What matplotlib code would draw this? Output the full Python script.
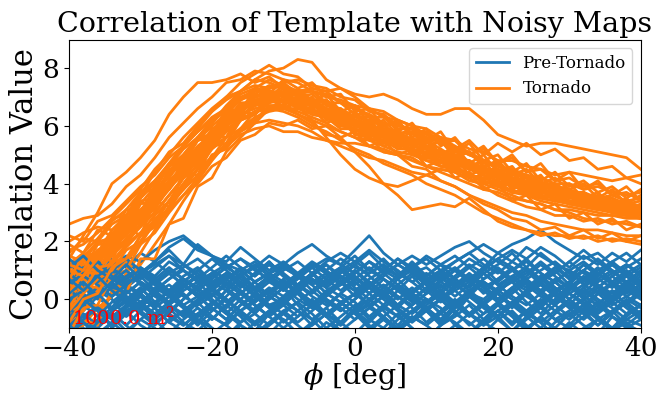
import numpy as np
import matplotlib
matplotlib.use('Agg')
import matplotlib.pyplot as plt

plt.rcParams['font.family'] = 'serif'
plt.rcParams['font.serif'] = ['DejaVu Serif']
plt.rcParams['mathtext.fontset'] = 'dejavuserif'

# scan angle grid [deg]
phi = np.arange(-40, 41, 2)

# correlation curves for the pre-tornado noisy maps
pre_tornado = [
    [0.2, 0.6, 0.1, -0.3, 0.4, 0.8, 0.3, -0.1, 0.5, 0.2, -0.4, 0.1, 0.6, 0.3, -0.2, 0.0, 0.5, 0.9, 0.4, 0.1, -0.3, 0.2, 0.7, 0.3, -0.1, 0.4, 0.0, -0.5, 0.1, 0.6, 0.2, -0.2, 0.3, 0.8, 0.4, 0.0, -0.4, 0.2, 0.5, 0.1, -0.2],
    [0.9, 1.2, 0.8, 1.4, 1.1, 1.6, 1.3, 1.8, 2.1, 1.7, 1.5, 1.2, 1.0, 1.3, 0.9, 1.1, 0.8, 1.2, 1.0, 1.4, 1.1, 0.9, 1.2, 0.8, 1.1, 1.5, 1.2, 1.0, 1.4, 1.1, 1.6, 1.3, 1.8, 1.5, 1.2, 1.0, 1.3, 0.9, 1.2, 0.8, 1.1],
    [-0.5, -0.1, 0.3, 0.0, -0.6, -0.2, 0.4, 0.1, -0.3, -0.8, -0.2, 0.3, -0.1, -0.5, 0.0, 0.4, -0.2, -0.7, -0.3, 0.2, -0.1, -0.6, -0.2, 0.3, 0.0, -0.4, -0.9, -0.3, 0.1, -0.2, -0.6, -0.1, 0.3, -0.2, -0.7, -0.4, 0.0, 0.3, -0.1, -0.5, -0.2],
    [1.0, 0.6, 0.9, 0.4, 0.7, 1.1, 0.8, 1.3, 1.0, 0.6, 0.9, 1.2, 0.7, 0.4, 0.8, 0.5, 0.9, 1.3, 1.0, 0.6, 0.3, 0.7, 1.0, 1.4, 1.1, 0.7, 0.4, 0.8, 1.2, 0.9, 0.5, 0.8, 1.1, 0.7, 0.3, 0.6, 1.0, 0.7, 0.4, 0.8, 0.5],
    [-1.3, -0.8, -1.0, -0.5, -0.9, -1.4, -0.7, -0.3, -0.8, -1.1, -0.6, -0.9, -1.3, -0.8, -0.4, -0.7, -1.2, -0.9, -0.5, -0.8, -1.2, -0.7, -0.3, -0.6, -1.0, -1.4, -0.9, -0.5, -0.8, -1.2, -0.7, -0.4, -0.9, -1.3, -0.8, -0.5, -0.9, -1.2, -0.6, -0.9, -1.1],
    [0.1, 0.5, 0.3, 0.7, 0.4, 0.2, 0.6, 0.9, 0.5, 0.8, 0.4, 0.7, 1.0, 0.6, 0.9, 1.2, 0.8, 1.1, 1.4, 1.2, 1.7, 2.2, 1.6, 1.2, 0.9, 1.1, 0.7, 0.5, 0.8, 0.4, 0.7, 1.0, 0.6, 0.3, 0.7, 0.4, 0.1, 0.5, 0.2, 0.6, 0.3],
    [0.5, 0.0, -0.4, 0.1, 0.5, 0.2, -0.2, 0.3, 0.7, 0.3, -0.1, -0.5, 0.0, 0.4, 0.8, 0.4, 0.0, -0.3, 0.2, 0.6, 0.3, -0.2, 0.1, 0.5, 0.9, 0.5, 0.1, -0.3, 0.2, 0.0, 0.4, 0.8, 0.5, 0.1, -0.2, 0.3, 0.7, 0.4, 0.0, 0.4, 0.1],
    [-0.2, -0.7, -0.3, -1.0, -0.5, -0.1, -0.6, -0.2, 0.2, -0.3, -0.7, -0.2, -0.6, -1.1, -0.5, -0.1, -0.4, 0.0, -0.5, -0.9, -0.4, -0.8, -0.3, 0.1, -0.3, -0.8, -0.4, 0.0, -0.5, -0.9, -0.6, -0.2, -0.6, -1.0, -0.5, -0.1, -0.5, -0.9, -0.4, 0.0, -0.3],
    [0.6, 0.3, 0.8, 0.5, 0.2, 0.6, 0.3, 0.7, 1.0, 0.6, 0.9, 0.5, 0.2, 0.6, 0.9, 0.6, 0.3, 0.7, 0.4, 0.8, 0.5, 0.9, 1.2, 0.8, 1.1, 1.4, 1.0, 1.3, 1.6, 1.9, 1.6, 1.9, 2.1, 2.4, 2.0, 1.7, 1.4, 1.6, 1.2, 0.9, 1.2],
    [-0.8, -0.3, 0.1, -0.4, -0.1, -0.5, -0.9, -0.4, 0.0, 0.4, 0.0, -0.4, -0.8, -0.3, 0.1, -0.2, -0.6, -0.2, 0.2, -0.1, -0.5, -1.0, -0.6, -0.2, 0.2, -0.1, 0.3, -0.1, -0.5, -0.1, 0.3, 0.0, -0.4, -0.8, -0.4, 0.0, 0.4, 0.0, -0.3, -0.7, -0.4],
    [0.3, 0.8, 1.1, 0.7, 1.0, 0.6, 0.3, 0.7, 1.1, 1.4, 1.0, 0.7, 1.0, 0.6, 0.9, 1.2, 0.8, 0.5, 0.8, 1.1, 0.7, 0.4, 0.8, 1.2, 0.9, 0.5, 0.8, 1.1, 0.7, 1.1, 1.4, 1.1, 0.7, 1.0, 1.3, 0.9, 0.6, 1.0, 1.3, 0.9, 0.6],
    [-1.0, -0.6, -0.2, -0.6, -1.1, -0.7, -0.3, 0.1, -0.3, -0.7, -1.2, -0.8, -0.4, -0.8, -0.4, 0.0, -0.4, -0.9, -0.5, -0.1, -0.5, -0.2, -0.6, -1.1, -0.7, -0.3, -0.7, -0.3, 0.1, -0.3, -0.7, -1.1, -0.7, -0.3, -0.7, -1.0, -0.6, -0.2, -0.6, -1.0, -0.7],
    [0.4, 0.9, 0.6, 1.0, 1.3, 0.9, 1.2, 1.5, 1.2, 1.9, 1.5, 1.3, 1.8, 1.4, 1.0, 1.3, 0.9, 0.6, 0.9, 0.5, 0.8, 0.4, 0.1, 0.5, 0.2, 0.6, 0.9, 0.5, 0.2, 0.6, 0.3, 0.7, 1.0, 0.6, 0.9, 1.3, 0.9, 0.6, 0.9, 1.2, 0.9],
    [0.0, -0.4, 0.1, 0.4, 0.0, -0.3, 0.2, -0.2, -0.6, -0.1, 0.3, 0.7, 0.3, -0.1, 0.3, 0.6, 0.2, -0.2, -0.6, -0.2, 0.2, 0.6, 0.2, -0.2, 0.2, -0.3, -0.7, -0.2, 0.2, 0.6, 0.2, -0.2, 0.2, 0.5, 0.1, -0.3, 0.0, 0.4, 0.8, 0.4, 0.1],
    [-0.6, -1.1, -0.7, -0.3, 0.1, -0.2, -0.7, -1.2, -0.7, -0.3, -0.7, -0.2, 0.2, -0.2, -0.6, -1.0, -0.6, -0.2, -0.6, -1.1, -0.7, -0.3, 0.1, -0.3, -0.7, -0.3, 0.0, -0.4, -0.9, -0.5, -0.1, -0.5, -1.0, -0.6, -0.2, 0.2, -0.2, -0.6, -1.0, -0.6, -0.2],
    [0.7, 1.1, 0.8, 1.2, 1.5, 1.3, 1.7, 2.0, 2.2, 1.8, 1.5, 1.1, 1.4, 1.0, 0.7, 1.1, 0.8, 1.2, 0.9, 0.6, 0.9, 1.3, 1.0, 0.7, 1.0, 0.6, 0.9, 1.3, 1.6, 1.2, 0.9, 1.3, 1.0, 0.7, 1.1, 0.8, 1.2, 0.9, 0.5, 0.9, 0.6],
    [0.2, -0.2, 0.3, 0.7, 0.4, 0.9, 0.5, 0.1, 0.5, 0.1, 0.4, 0.8, 0.5, 0.1, -0.3, 0.1, 0.5, 0.2, 0.6, 1.0, 0.6, 0.2, 0.5, 0.1, -0.2, 0.2, 0.6, 1.0, 0.6, 0.3, -0.1, 0.3, 0.7, 0.3, 0.6, 0.2, 0.5, 0.9, 0.6, 0.2, 0.5],
    [-1.5, -1.0, -1.3, -0.8, -1.2, -0.7, -1.0, -1.5, -1.1, -0.7, -1.0, -1.4, -0.9, -1.3, -0.9, -0.5, -0.9, -1.3, -0.8, -1.1, -1.5, -1.1, -0.7, -1.0, -0.6, -0.9, -1.3, -0.9, -1.2, -0.8, -1.1, -1.5, -1.0, -0.7, -1.0, -1.4, -1.0, -0.7, -1.1, -0.8, -1.2],
    [0.8, 0.4, 0.0, 0.4, 0.8, 1.1, 0.7, 0.3, 0.6, 1.0, 0.6, 0.9, 0.5, 0.2, 0.6, 1.0, 1.3, 0.9, 0.5, 0.9, 1.2, 0.8, 0.4, 0.8, 1.2, 0.8, 1.2, 1.5, 1.1, 0.7, 1.0, 0.6, 0.3, 0.7, 1.1, 0.7, 1.0, 1.4, 1.0, 0.6, 1.0],
    [-0.3, 0.1, -0.3, -0.7, -0.3, 0.2, 0.6, 0.2, -0.2, 0.1, -0.3, -0.7, -0.2, 0.2, -0.2, -0.5, -0.1, 0.3, -0.1, -0.4, 0.0, 0.4, 0.0, -0.4, -0.8, -0.4, 0.0, 0.3, -0.1, -0.5, -0.2, 0.2, 0.6, 0.2, -0.2, -0.6, -0.2, 0.2, -0.2, 0.1, 0.4],
    [0.3, 0.0, 0.4, 0.1, 0.5, 0.9, 0.6, 1.0, 0.7, 0.4, 0.8, 1.1, 1.4, 1.1, 1.5, 1.2, 1.6, 1.9, 1.5, 1.2, 0.9, 1.3, 0.9, 1.2, 1.5, 1.2, 1.5, 1.8, 2.0, 1.6, 1.3, 1.0, 1.3, 0.9, 0.6, 1.0, 0.7, 0.4, 0.8, 1.1, 1.4],
    [-0.4, 0.0, 0.4, 0.9, 0.5, 0.1, -0.3, 0.1, 0.5, 0.1, 0.4, 0.0, -0.4, 0.0, 0.4, 0.1, 0.5, 0.1, -0.2, 0.2, 0.6, 0.2, -0.2, -0.6, -0.2, 0.2, 0.5, 0.1, 0.5, 0.9, 0.5, 0.1, -0.2, 0.2, 0.6, 0.2, -0.1, -0.5, -0.1, 0.3, 0.0],
    [-0.9, -0.5, -0.9, -0.4, 0.0, -0.4, -0.8, -0.5, -0.9, -0.5, -0.1, -0.5, -0.9, -1.2, -0.8, -0.4, -0.8, -0.4, 0.0, -0.3, -0.7, -0.3, -0.6, -1.0, -0.6, -0.9, -0.5, -0.1, -0.5, -0.8, -0.4, -0.8, -0.4, 0.0, -0.4, -0.7, -0.3, -0.7, -1.1, -0.7, -0.9],
    [1.2, 0.9, 1.3, 1.0, 0.6, 0.9, 0.5, 0.9, 1.2, 0.8, 0.4, 0.7, 1.1, 0.8, 1.2, 0.9, 0.5, 0.9, 1.3, 1.6, 1.3, 1.7, 1.3, 1.0, 0.6, 0.9, 0.6, 0.3, 0.6, 1.0, 1.4, 1.7, 1.4, 1.8, 1.5, 1.1, 1.5, 1.2, 1.6, 1.3, 1.7],
    [-0.1, 0.4, 0.9, 0.5, 0.0, 0.4, -0.1, -0.5, 0.0, 0.5, 0.9, 0.4, 0.0, -0.4, 0.1, 0.6, 0.2, -0.3, 0.1, 0.5, 1.0, 0.6, 0.1, 0.5, 0.0, -0.4, 0.0, 0.5, 0.9, 0.5, 0.0, 0.4, -0.1, -0.5, 0.0, 0.5, 1.0, 0.5, 0.1, 0.6, 0.2],
    [0.6, 0.2, -0.3, -0.7, -0.2, 0.3, 0.7, 0.3, -0.2, -0.6, -0.2, 0.3, 0.8, 0.4, 0.0, 0.4, 0.9, 0.5, 0.0, -0.4, 0.0, 0.5, 0.9, 0.5, 0.1, -0.4, -0.8, -0.3, 0.2, 0.6, 0.2, -0.3, 0.2, 0.6, 1.0, 0.5, 0.0, -0.4, 0.0, 0.5, 0.9],
    [-0.7, -0.2, -0.6, -0.1, 0.3, -0.1, -0.5, -0.1, 0.4, 0.8, 0.3, -0.1, 0.3, -0.2, -0.6, -0.2, 0.3, -0.1, -0.5, -0.9, -0.4, 0.0, 0.4, 0.0, 0.4, 0.0, -0.5, -0.1, 0.3, -0.1, -0.6, -0.2, 0.2, 0.6, 0.2, -0.2, 0.3, -0.1, -0.5, -0.1, 0.3],
    [1.4, 1.0, 0.6, 1.0, 1.4, 1.0, 0.7, 1.1, 0.7, 0.3, 0.7, 1.1, 0.8, 1.2, 0.8, 0.4, 0.8, 1.2, 0.9, 0.5, 0.9, 1.3, 1.0, 1.4, 1.0, 0.6, 1.0, 0.7, 1.1, 1.4, 1.0, 0.6, 0.9, 1.3, 0.9, 1.3, 1.7, 1.3, 0.9, 1.2, 0.8],
    [-0.3, -0.8, -1.2, -0.8, -0.3, 0.1, -0.3, -0.8, -0.4, 0.0, 0.4, 0.0, -0.5, -0.9, -0.5, -0.1, 0.3, -0.1, -0.6, -0.2, 0.2, -0.2, -0.7, -1.1, -0.7, -0.2, 0.2, -0.2, -0.6, -0.2, -0.6, -1.1, -0.6, -0.2, 0.2, -0.3, -0.7, -0.3, 0.1, -0.3, -0.7],
    [0.4, 0.8, 0.5, 0.1, 0.5, 0.9, 1.3, 0.9, 0.5, 0.1, 0.5, 0.9, 0.5, 0.9, 1.2, 0.8, 0.4, 0.8, 1.2, 0.8, 0.4, 0.0, 0.4, 0.8, 1.1, 0.7, 0.3, 0.7, 0.3, 0.7, 1.1, 0.7, 0.4, 0.8, 0.4, 0.0, 0.4, 0.8, 1.2, 0.8, 0.4],
    [-1.1, -0.7, -0.3, -0.6, -0.2, 0.1, -0.3, -0.8, -1.1, -0.6, -0.3, -0.7, -0.2, 0.1, -0.3, -0.8, -0.4, -0.7, -1.2, -0.8, -0.3, 0.0, -0.4, -0.9, -0.4, 0.0, -0.3, -0.9, -0.5, -0.1, -0.6, -0.1, -0.5, -0.8, -1.3, -0.9, -0.4, -0.9, -0.5, -0.1, -0.5],
    [0.0, 0.3, 0.7, 1.1, 0.7, 1.0, 0.6, 0.2, 0.6, 1.0, 1.4, 1.0, 0.6, 0.3, 0.7, 0.3, 0.7, 1.1, 0.7, 0.3, 0.7, 1.1, 0.7, 0.4, 0.0, 0.4, 0.8, 0.4, 0.8, 0.4, 0.0, 0.4, 0.8, 1.2, 0.8, 0.4, 0.8, 0.4, 0.0, 0.4, 0.8],
    [0.9, 0.5, 0.1, 0.6, 0.1, -0.3, 0.2, 0.5, 0.1, -0.2, 0.1, 0.5, 0.9, 0.4, 0.2, 0.7, 0.2, -0.2, 0.3, 0.6, 0.1, 0.6, 0.2, -0.3, 0.2, 0.7, 1.0, 0.5, 0.2, -0.2, 0.3, 0.6, 0.1, -0.2, 0.3, 0.6, 0.2, 0.7, 1.0, 0.5, 0.2],
    [-0.4, 0.0, -0.4, -0.9, -0.4, -0.1, 0.3, -0.2, -0.5, -0.1, -0.6, -0.9, -0.4, -0.1, 0.3, -0.1, 0.4, 0.7, 0.2, -0.1, -0.5, -0.1, 0.3, -0.2, -0.5, -0.1, 0.3, -0.2, -0.5, -0.9, -0.4, -0.1, -0.5, -0.1, 0.3, -0.2, -0.5, -0.1, -0.6, -0.9, -0.5],
    [0.5, 0.9, 1.3, 0.8, 0.5, 0.9, 1.3, 1.7, 1.2, 0.9, 0.5, 0.9, 0.4, 0.9, 1.3, 0.8, 0.5, 0.9, 0.5, 1.0, 1.3, 1.0, 1.4, 0.9, 0.6, 0.2, 0.7, 1.0, 0.6, 1.1, 0.6, 1.0, 1.4, 0.9, 0.6, 1.0, 0.5, 0.2, 0.6, 1.0, 0.6],
    [-0.9, -1.3, -0.8, -0.5, -0.9, -0.4, -0.1, -0.6, -0.9, -0.5, -1.0, -1.3, -0.8, -0.5, -0.9, -0.4, -0.1, -0.5, -1.0, -0.6, -0.2, -0.7, -1.0, -0.5, -1.0, -1.4, -0.9, -0.6, -0.2, -0.7, -0.2, -0.6, -1.1, -0.6, -1.0, -0.5, -0.2, -0.6, -1.0, -0.5, -0.2],
    [0.2, 0.6, 0.1, 0.6, 1.0, 0.5, 0.2, -0.2, 0.3, 0.6, 0.1, 0.6, 0.2, -0.2, -0.6, -0.1, 0.2, 0.7, 0.2, 0.6, 1.0, 0.5, 0.2, 0.7, 0.2, 0.6, 0.1, -0.2, 0.3, -0.2, 0.2, 0.7, 1.0, 0.5, 0.2, 0.6, 0.1, -0.2, 0.3, -0.2, 0.2],
    [1.1, 1.5, 1.0, 0.7, 1.2, 0.7, 1.1, 1.5, 1.0, 0.7, 1.1, 1.5, 1.1, 0.8, 1.3, 0.8, 0.4, 0.9, 1.2, 0.7, 1.2, 1.6, 1.1, 0.8, 1.3, 0.8, 1.2, 0.7, 0.4, 0.9, 1.2, 1.6, 1.1, 1.6, 1.2, 0.7, 1.2, 0.8, 1.3, 1.6, 1.2],
    [-0.6, -0.2, 0.2, -0.3, 0.2, 0.6, 0.1, -0.2, -0.6, -0.1, 0.2, -0.3, 0.2, 0.6, 0.1, -0.2, 0.3, -0.2, -0.6, -0.1, 0.2, 0.6, 0.1, -0.2, 0.3, 0.6, 0.2, 0.6, 0.1, -0.2, -0.6, -0.1, 0.2, -0.3, 0.2, 0.6, 0.1, -0.2, 0.3, -0.2, -0.6],
    [0.7, 0.3, 0.8, 0.3, -0.1, 0.4, -0.1, 0.3, 0.8, 1.1, 0.6, 0.3, 0.8, 1.1, 0.6, 0.3, 0.8, 0.3, 0.7, 1.1, 1.5, 1.0, 0.7, 0.3, 0.8, 0.3, -0.1, 0.4, 0.7, 0.2, 0.7, 1.1, 0.6, 0.3, -0.1, 0.4, 0.7, 1.1, 0.6, 0.3, 0.7],
    [-1.2, -0.8, -1.3, -0.8, -0.4, -0.9, -1.2, -0.7, -0.4, -0.9, -0.4, 0.0, -0.5, -0.8, -1.2, -0.7, -1.2, -0.8, -0.3, -0.8, -0.4, -0.9, -1.2, -0.7, -0.4, 0.0, -0.5, -0.8, -1.2, -0.7, -0.4, -0.9, -0.4, -0.8, -1.3, -0.8, -1.2, -0.7, -0.4, -0.9, -1.2],
]

# correlation curves for the tornado noisy maps
tornado = [
    [2.6, 2.8, 2.9, 3.3, 3.9, 4.3, 4.9, 5.6, 6.1, 6.6, 7.0, 7.5, 7.6, 7.9, 7.8, 7.6, 7.5, 7.2, 7.1, 6.8, 6.6, 6.4, 6.1, 6.0, 5.9, 5.7, 5.4, 5.2, 5.0, 4.8, 4.6, 4.5, 4.3, 4.2, 4.0, 4.0, 3.8, 3.9, 3.7, 3.6, 3.7],
    [2.0, 2.3, 2.5, 2.4, 2.9, 3.6, 4.4, 5.1, 5.4, 6.0, 6.5, 6.9, 7.2, 7.4, 7.3, 7.5, 7.1, 6.9, 6.8, 6.4, 6.2, 6.1, 5.8, 5.6, 5.6, 5.3, 5.0, 5.0, 4.7, 4.4, 4.4, 4.1, 4.0, 3.8, 3.9, 3.6, 3.5, 3.6, 3.3, 3.4, 3.2],
    [1.4, 2.2, 3.0, 4.0, 4.4, 4.9, 5.5, 6.4, 7.0, 7.5, 7.5, 7.6, 7.8, 7.5, 7.7, 7.3, 7.2, 6.9, 6.9, 6.5, 6.3, 6.3, 5.9, 5.8, 5.5, 5.5, 5.2, 4.9, 4.8, 4.5, 4.5, 4.2, 4.1, 3.9, 3.9, 3.7, 3.7, 3.5, 3.6, 3.4, 3.5],
    [0.9, 1.3, 1.5, 2.0, 2.4, 3.0, 3.7, 4.4, 5.0, 5.6, 6.1, 6.7, 7.2, 7.6, 7.9, 8.0, 8.3, 8.2, 7.6, 7.3, 7.0, 6.6, 6.5, 6.2, 6.0, 5.7, 5.6, 5.3, 5.0, 4.8, 4.5, 4.4, 4.2, 4.0, 3.9, 3.8, 3.6, 3.5, 3.5, 3.3, 3.4],
    [0.4, 0.9, 1.4, 2.0, 2.5, 3.0, 3.6, 4.3, 4.9, 5.5, 6.0, 6.4, 6.9, 7.1, 7.4, 7.3, 7.2, 7.3, 7.2, 7.3, 7.1, 7.0, 7.1, 6.9, 6.6, 6.4, 6.4, 6.6, 6.6, 6.2, 5.7, 5.5, 5.3, 5.4, 5.4, 5.3, 5.2, 5.1, 5.0, 4.9, 4.5],
    [0.8, 1.0, 1.7, 2.0, 2.7, 3.0, 3.8, 4.2, 4.9, 5.2, 5.9, 6.2, 6.8, 6.8, 7.1, 6.8, 6.8, 6.4, 6.3, 5.9, 5.9, 5.5, 5.5, 5.2, 5.2, 4.8, 4.8, 4.4, 4.4, 4.0, 4.1, 3.7, 3.8, 3.5, 3.6, 3.3, 3.4, 3.2, 3.3, 3.1, 3.2],
    [1.1, 1.5, 1.4, 2.3, 2.5, 3.4, 3.5, 4.5, 4.7, 5.5, 5.6, 6.5, 6.5, 7.1, 6.9, 7.1, 6.6, 6.6, 6.1, 6.3, 5.7, 5.8, 5.3, 5.5, 5.0, 5.1, 4.6, 4.7, 4.2, 4.3, 3.9, 4.0, 3.6, 3.8, 3.4, 3.6, 3.2, 3.4, 3.1, 3.3, 3.0],
    [0.3, 0.8, 1.3, 1.8, 2.2, 2.8, 3.3, 3.9, 4.5, 5.0, 5.5, 6.0, 6.4, 6.6, 6.7, 6.7, 6.5, 6.3, 6.1, 5.8, 5.6, 5.5, 5.3, 5.1, 5.0, 4.8, 4.6, 4.5, 4.3, 4.1, 3.9, 3.8, 3.6, 3.5, 3.4, 3.3, 3.2, 3.1, 3.1, 3.0, 2.9],
    [1.3, 1.4, 2.0, 2.6, 2.9, 3.5, 4.1, 4.6, 5.2, 5.6, 6.2, 6.5, 6.9, 7.3, 7.2, 7.1, 6.9, 6.8, 6.4, 6.2, 6.1, 5.8, 5.6, 5.5, 5.3, 5.2, 4.9, 4.8, 4.5, 4.4, 4.2, 4.0, 3.9, 3.7, 3.7, 3.5, 3.5, 3.4, 3.3, 3.3, 3.2],
    [0.5, 1.0, 1.2, 1.9, 2.4, 2.7, 3.5, 4.0, 4.4, 5.1, 5.6, 6.0, 6.6, 6.7, 7.0, 6.9, 6.6, 6.6, 6.3, 6.0, 5.9, 5.6, 5.4, 5.4, 5.1, 4.9, 4.8, 4.6, 4.3, 4.2, 4.0, 3.7, 3.7, 3.5, 3.4, 3.4, 3.2, 3.2, 3.0, 3.1, 2.9],
    [0.7, 1.2, 1.5, 2.1, 2.6, 3.0, 3.7, 4.3, 4.7, 5.3, 5.7, 6.3, 6.6, 6.8, 6.9, 6.7, 6.4, 6.1, 5.7, 5.6, 5.1, 4.6, 4.0, 3.6, 3.1, 3.2, 3.3, 3.2, 3.5, 3.1, 2.7, 2.5, 2.4, 2.2, 2.3, 2.1, 2.2, 2.0, 2.1, 2.0, 1.9],
    [0.2, 0.6, 1.1, 1.6, 2.1, 2.6, 3.2, 3.8, 4.4, 4.9, 5.4, 5.9, 6.2, 6.5, 6.6, 6.5, 6.3, 6.0, 5.8, 5.5, 5.2, 5.0, 4.7, 4.5, 4.3, 4.0, 3.8, 3.6, 3.3, 3.0, 2.8, 2.6, 2.4, 2.3, 2.2, 2.2, 2.1, 2.2, 2.0, 2.1, 2.0],
    [-1.8, -1.2, -0.5, 0.2, 0.9, 1.6, 2.4, 3.2, 4.0, 4.7, 5.3, 5.8, 6.2, 6.5, 6.6, 6.6, 6.4, 6.2, 6.0, 5.8, 5.6, 5.3, 5.2, 5.0, 4.8, 4.6, 4.4, 4.2, 4.0, 3.8, 3.7, 3.5, 3.4, 3.3, 3.1, 3.1, 3.0, 2.9, 2.9, 2.8, 2.8],
    [-1.4, -0.9, -0.3, 0.1, 0.7, 1.2, 1.9, 2.6, 3.4, 4.1, 4.8, 5.4, 5.9, 6.3, 6.5, 6.6, 6.6, 6.4, 6.3, 6.1, 5.9, 5.7, 5.5, 5.4, 5.2, 5.0, 4.8, 4.7, 4.5, 4.3, 4.1, 3.9, 3.8, 3.6, 3.5, 3.4, 3.3, 3.3, 3.2, 3.1, 3.0],
    [-0.6, 0.0, 0.5, 1.0, 1.4, 2.0, 2.6, 3.2, 3.8, 4.3, 4.9, 5.4, 5.8, 6.1, 6.2, 6.1, 6.0, 5.8, 5.5, 5.3, 5.1, 4.9, 4.8, 4.6, 4.4, 4.3, 4.1, 3.9, 3.6, 3.4, 3.2, 3.0, 2.9, 2.7, 2.6, 2.5, 2.4, 2.4, 2.3, 2.2, 2.2],
    [-0.2, 0.3, 0.9, 1.3, 1.9, 2.3, 2.9, 3.4, 3.9, 4.5, 4.9, 5.3, 5.7, 5.9, 6.0, 5.8, 5.8, 5.6, 5.5, 5.4, 5.4, 5.3, 5.1, 5.0, 4.9, 4.6, 4.5, 4.4, 4.1, 4.0, 3.8, 3.6, 3.4, 3.3, 3.1, 3.0, 2.8, 2.7, 2.7, 2.6, 2.5],
    [1.0, 1.5, 1.9, 2.2, 2.9, 3.3, 3.9, 4.6, 5.0, 5.6, 6.1, 6.6, 7.0, 7.2, 7.3, 7.4, 7.2, 6.9, 6.6, 6.5, 6.2, 6.0, 5.9, 5.6, 5.5, 5.2, 5.1, 4.9, 4.6, 4.5, 4.3, 4.2, 4.0, 3.8, 3.7, 3.6, 3.4, 3.4, 3.3, 3.2, 3.1],
    [0.0, 0.6, 1.0, 1.5, 2.0, 2.5, 3.0, 3.6, 4.2, 4.8, 5.3, 5.8, 6.3, 6.7, 6.8, 6.9, 6.7, 6.5, 6.4, 6.2, 6.0, 5.9, 5.7, 5.6, 5.3, 5.2, 5.0, 4.8, 4.6, 4.3, 4.1, 3.9, 3.8, 3.6, 3.5, 3.3, 3.3, 3.2, 3.1, 3.0, 3.0],
    [1.2, 1.6, 2.1, 2.7, 3.1, 3.7, 4.1, 4.7, 5.3, 5.8, 6.3, 6.6, 7.1, 7.3, 7.6, 7.4, 7.2, 7.2, 7.0, 6.9, 6.7, 6.6, 6.3, 6.2, 6.0, 5.9, 5.6, 5.5, 5.2, 5.1, 4.8, 4.8, 4.6, 4.5, 4.3, 4.4, 4.3, 4.2, 4.1, 4.2, 4.0],
    [0.4, 0.7, 1.3, 1.7, 2.3, 2.9, 3.4, 4.0, 4.6, 5.1, 5.7, 6.1, 6.5, 6.9, 7.0, 6.9, 6.8, 6.5, 6.3, 6.1, 5.9, 5.7, 5.6, 5.4, 5.2, 5.1, 4.9, 4.7, 4.5, 4.4, 4.2, 4.0, 3.8, 3.6, 3.5, 3.3, 3.2, 3.1, 3.0, 2.9, 2.8],
    [1.7, 1.9, 2.3, 2.8, 3.3, 3.8, 4.5, 5.0, 5.6, 6.1, 6.6, 7.0, 7.2, 7.6, 7.5, 7.3, 7.0, 6.9, 6.6, 6.4, 6.2, 6.0, 5.8, 5.7, 5.5, 5.3, 5.1, 4.9, 4.7, 4.6, 4.3, 4.1, 4.0, 3.8, 3.7, 3.6, 3.5, 3.3, 3.3, 3.2, 3.2],
    [-0.9, -0.4, 0.3, 0.8, 1.3, 1.9, 2.7, 3.4, 4.2, 4.9, 5.6, 6.2, 6.6, 7.0, 7.2, 7.1, 6.9, 6.7, 6.5, 6.2, 6.0, 5.8, 5.6, 5.4, 5.2, 5.0, 4.8, 4.5, 4.3, 4.1, 3.9, 3.7, 3.6, 3.4, 3.3, 3.2, 3.1, 3.0, 2.9, 2.9, 2.8],
    [0.6, 1.4, 1.1, 2.2, 2.3, 3.3, 3.4, 4.4, 4.6, 5.6, 5.7, 6.6, 6.5, 7.3, 7.0, 7.2, 6.7, 6.9, 6.2, 6.4, 5.8, 6.0, 5.4, 5.6, 5.0, 5.3, 4.7, 4.9, 4.3, 4.5, 4.0, 4.2, 3.7, 3.9, 3.4, 3.7, 3.2, 3.5, 3.0, 3.3, 2.9],
    [1.9, 1.6, 2.4, 2.2, 3.1, 3.0, 3.9, 3.8, 4.8, 4.7, 5.7, 5.6, 6.5, 6.4, 7.2, 7.0, 7.1, 6.6, 6.8, 6.2, 6.4, 5.8, 6.1, 5.5, 5.8, 5.2, 5.5, 4.9, 5.1, 4.6, 4.8, 4.3, 4.5, 4.0, 4.2, 3.8, 4.0, 3.5, 3.8, 3.3, 3.6],
    [-1.6, -0.7, -0.9, 0.3, 0.2, 1.4, 1.4, 2.6, 2.8, 3.9, 4.2, 5.1, 5.6, 6.1, 6.6, 6.6, 6.9, 6.5, 6.6, 6.0, 6.2, 5.6, 5.8, 5.2, 5.5, 4.9, 5.2, 4.5, 4.8, 4.1, 4.4, 3.8, 4.1, 3.5, 3.8, 3.3, 3.6, 3.1, 3.4, 2.9, 3.2],
    [0.1, 0.9, 0.9, 1.7, 1.9, 2.6, 3.0, 3.6, 4.2, 4.6, 5.3, 5.6, 6.3, 6.4, 7.0, 6.8, 7.3, 6.8, 7.1, 6.5, 6.7, 6.1, 6.4, 5.8, 6.1, 5.5, 5.8, 5.1, 5.4, 4.8, 5.0, 4.4, 4.7, 4.1, 4.4, 3.9, 4.1, 3.7, 3.9, 3.5, 3.8],
    [-0.3, 0.5, 0.4, 1.3, 1.4, 2.2, 2.5, 3.1, 3.6, 4.0, 4.6, 4.9, 5.5, 5.7, 6.1, 6.0, 6.2, 5.9, 6.0, 5.6, 5.8, 5.3, 5.5, 5.0, 5.2, 4.6, 4.8, 4.2, 4.4, 3.8, 4.0, 3.4, 3.6, 3.1, 3.3, 2.8, 3.0, 2.6, 2.8, 2.4, 2.6],
    [1.5, 1.3, 2.0, 2.1, 2.8, 3.1, 3.6, 4.1, 4.5, 5.1, 5.5, 6.1, 6.4, 7.0, 7.1, 7.6, 7.3, 7.5, 7.0, 7.1, 6.5, 6.6, 6.0, 6.2, 5.6, 5.9, 5.3, 5.6, 5.0, 5.3, 4.7, 5.0, 4.4, 4.7, 4.1, 4.4, 3.8, 4.1, 3.6, 3.9, 3.4],
    [0.9, 0.5, 1.6, 1.3, 2.5, 2.2, 3.4, 3.2, 4.4, 4.3, 5.3, 5.4, 6.2, 6.4, 6.8, 7.1, 6.8, 6.9, 6.4, 6.5, 6.0, 6.1, 5.6, 5.8, 5.3, 5.5, 5.0, 5.2, 4.6, 4.8, 4.2, 4.4, 3.9, 4.1, 3.6, 3.8, 3.3, 3.5, 3.1, 3.2, 2.9],
    [0.2, 1.0, 1.0, 1.8, 2.0, 2.8, 3.1, 3.9, 4.3, 5.0, 5.4, 6.0, 6.3, 6.8, 6.9, 7.1, 6.8, 6.8, 6.3, 6.2, 5.7, 5.6, 5.1, 5.0, 4.6, 4.5, 4.1, 3.9, 3.6, 3.3, 3.1, 2.8, 2.7, 2.4, 2.5, 2.2, 2.4, 2.1, 2.3, 2.0, 2.2],
    [-1.2, -0.3, -0.2, 0.8, 1.0, 1.9, 2.3, 3.0, 3.6, 4.2, 4.9, 5.3, 5.9, 6.2, 6.7, 6.7, 7.0, 6.7, 6.9, 6.4, 6.5, 6.0, 6.2, 5.7, 5.8, 5.3, 5.5, 5.0, 5.1, 4.6, 4.7, 4.2, 4.3, 3.9, 4.0, 3.6, 3.7, 3.3, 3.5, 3.1, 3.3],
    [2.2, 2.0, 2.7, 2.9, 3.4, 3.9, 4.3, 4.9, 5.3, 5.8, 6.2, 6.6, 6.9, 7.2, 7.3, 7.4, 7.1, 7.2, 6.8, 6.8, 6.4, 6.4, 6.0, 6.1, 5.7, 5.8, 5.4, 5.5, 5.0, 5.2, 4.7, 4.9, 4.4, 4.5, 4.1, 4.2, 3.9, 4.0, 3.6, 3.7, 3.4],
    [0.7, 1.5, 1.6, 2.4, 2.7, 3.5, 4.0, 4.7, 5.3, 5.9, 6.5, 7.0, 7.5, 7.8, 8.1, 7.8, 7.7, 7.3, 7.2, 6.8, 6.7, 6.3, 6.3, 5.9, 5.9, 5.5, 5.5, 5.1, 5.1, 4.7, 4.7, 4.3, 4.3, 4.0, 4.0, 3.7, 3.7, 3.4, 3.4, 3.2, 3.2],
    [-0.4, 0.2, 0.7, 1.0, 1.7, 2.0, 2.8, 3.1, 3.9, 4.2, 5.0, 5.2, 5.9, 6.1, 6.6, 6.6, 6.8, 6.5, 6.5, 6.1, 6.1, 5.7, 5.7, 5.3, 5.4, 5.0, 5.1, 4.7, 4.8, 4.4, 4.5, 4.1, 4.2, 3.8, 3.9, 3.5, 3.6, 3.3, 3.4, 3.1, 3.2],
    [1.0, 0.8, 1.7, 1.6, 2.6, 2.6, 3.6, 3.8, 4.6, 4.9, 5.6, 6.0, 6.5, 6.9, 7.0, 7.4, 7.0, 7.1, 6.7, 6.6, 6.3, 6.2, 6.0, 5.7, 5.9, 5.4, 5.6, 5.2, 5.5, 5.0, 5.4, 5.1, 5.4, 5.0, 5.2, 4.8, 4.9, 4.5, 4.6, 4.2, 4.3],
    [0.5, 0.3, 1.1, 1.2, 1.8, 2.3, 2.7, 3.4, 3.8, 4.5, 4.9, 5.6, 5.9, 6.5, 6.6, 6.9, 6.8, 6.7, 6.5, 6.3, 6.1, 5.9, 5.7, 5.5, 5.3, 5.2, 4.9, 4.9, 4.5, 4.5, 4.2, 4.1, 3.9, 3.7, 3.7, 3.4, 3.5, 3.2, 3.3, 3.0, 3.1],
    [1.6, 2.1, 2.0, 2.8, 2.9, 3.7, 3.8, 4.6, 4.8, 5.5, 5.7, 6.4, 6.5, 7.1, 6.9, 7.3, 6.8, 7.0, 6.4, 6.6, 6.0, 6.2, 5.7, 5.9, 5.3, 5.6, 5.0, 5.3, 4.7, 5.0, 4.4, 4.6, 4.0, 4.3, 3.7, 4.0, 3.5, 3.7, 3.2, 3.5, 3.0],
    [0.3, 0.8, 1.4, 1.8, 2.4, 2.9, 3.5, 4.1, 4.6, 5.2, 5.7, 6.2, 6.6, 7.0, 7.1, 7.0, 6.7, 6.2, 5.6, 5.0, 4.5, 4.2, 4.0, 3.9, 4.1, 4.3, 4.5, 4.4, 4.2, 3.9, 3.6, 3.4, 3.2, 3.1, 2.9, 2.9, 2.7, 2.8, 2.6, 2.7, 2.5],
    [-0.8, 0.0, 0.2, 1.1, 1.4, 2.2, 2.7, 3.4, 4.0, 4.5, 5.2, 5.6, 6.2, 6.4, 6.9, 6.9, 7.0, 6.8, 6.6, 6.4, 6.2, 6.0, 5.8, 5.6, 5.5, 5.2, 5.1, 4.8, 4.7, 4.4, 4.3, 4.0, 3.9, 3.7, 3.6, 3.4, 3.3, 3.2, 3.0, 3.0, 2.8],
    [1.2, 1.0, 1.9, 1.9, 2.8, 2.8, 3.8, 3.9, 4.8, 5.0, 5.8, 6.1, 6.7, 7.0, 7.3, 7.5, 7.6, 7.4, 7.3, 7.0, 6.9, 6.5, 6.4, 6.0, 5.9, 5.6, 5.5, 5.2, 5.1, 4.8, 4.6, 4.4, 4.2, 4.0, 3.8, 3.7, 3.5, 3.5, 3.3, 3.3, 3.1],
]

area_label = '1000.0 m$^2$'

fig = plt.figure(figsize=(6.64, 3.93), dpi=100)
ax = fig.add_axes([0.104, 0.165, 0.861, 0.733])

n = max(len(pre_tornado), len(tornado))
for i in range(n):
    if i < len(pre_tornado):
        ax.plot(phi, pre_tornado[i], color='tab:blue', lw=2,
                label='Pre-Tornado' if i == 0 else None)
    if i < len(tornado):
        ax.plot(phi, tornado[i], color='tab:orange', lw=2,
                label='Tornado' if i == 0 else None)

ax.text(-39.6, -0.88, area_label, color='red', fontsize=14)

ax.set_xlim(-40, 40)
ax.set_ylim(-1, 8.97)
ax.set_xticks([-40, -20, 0, 20, 40])
ax.set_yticks([0, 2, 4, 6, 8])
ax.tick_params(labelsize=19)
ax.tick_params(axis='x', pad=2)
ax.set_xlabel(r'$\phi$ [deg]', fontsize=20.5, labelpad=0)
ax.set_ylabel('Correlation Value', fontsize=22, labelpad=2)
ax.set_title('Correlation of Template with Noisy Maps', fontsize=20.5)
ax.legend(loc='upper right', fontsize=12)

fig.savefig('out.png', dpi=100)
